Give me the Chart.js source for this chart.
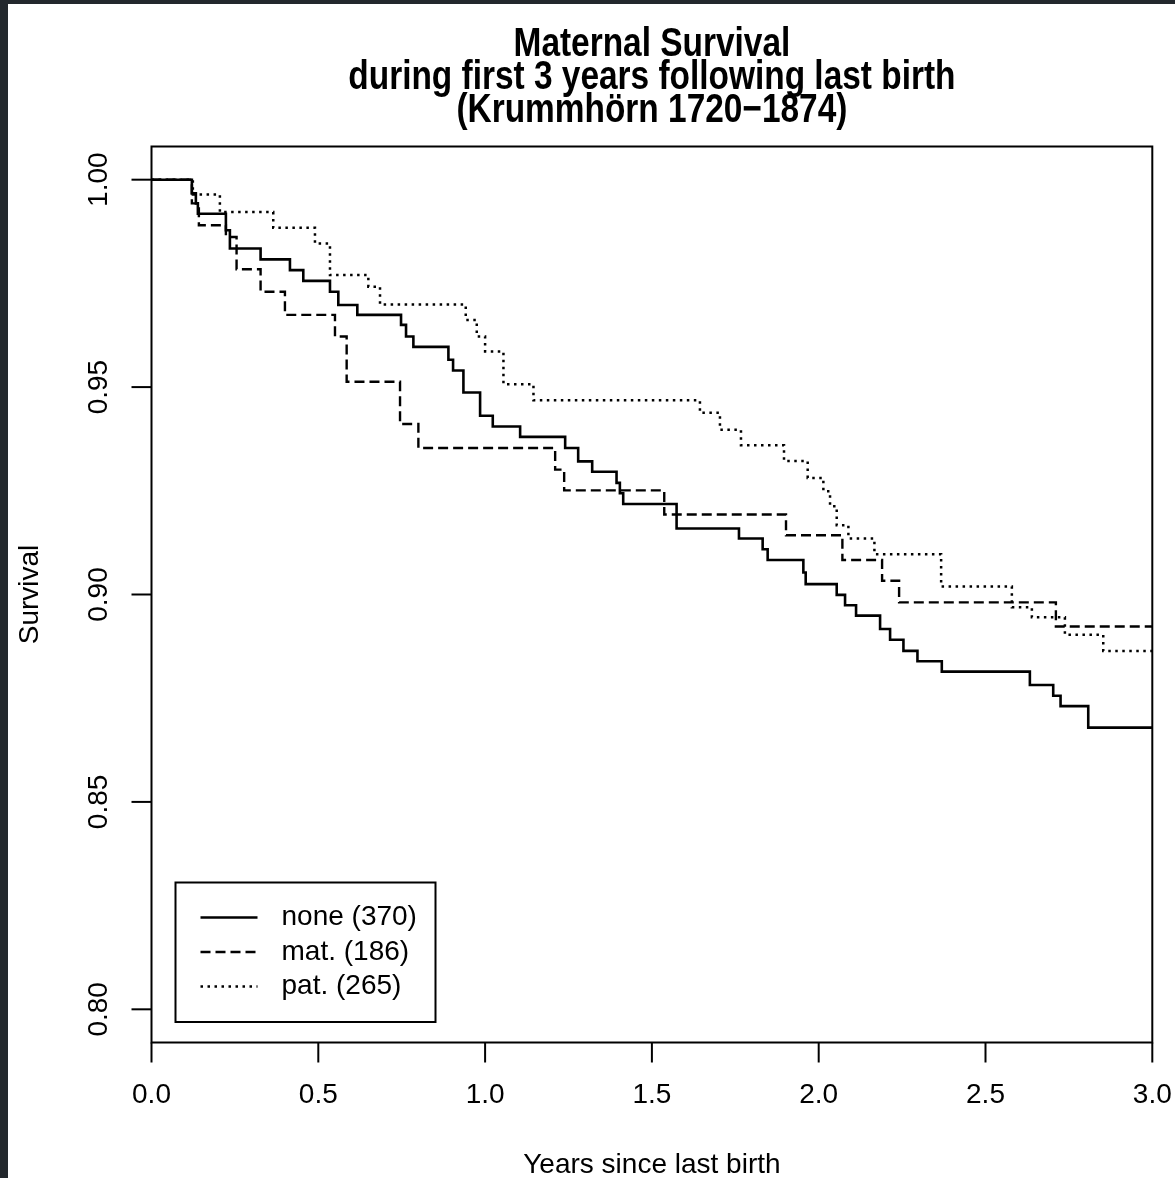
<!DOCTYPE html>
<html>
<head>
<meta charset="utf-8">
<script src="https://cdn.jsdelivr.net/npm/chart.js@4.4.1/dist/chart.umd.min.js"></script>
<style>
    html, body { margin: 0; padding: 0; }
    body { width: 1175px; height: 1178px; background: #23282d; overflow: hidden; position: relative; }
    #panel { position: absolute; left: 8px; top: 4px; width: 1167px; height: 1174px; background: #fff; }
    #panel canvas { display: block; }
</style>
</head>
<body>
<div id="panel"><canvas id="survivalChart" width="1167" height="1174"></canvas></div>
<script>
// Kaplan-Meier steps (time in years, survival after the drop)
const noneTimes = [0, 0.121, 0.133, 0.139, 0.223, 0.235, 0.327, 0.415, 0.455, 0.535, 0.560, 0.617, 0.748, 0.763, 0.785,
    0.890, 0.904, 0.935, 0.985, 1.023, 1.105, 1.240, 1.279, 1.321, 1.394, 1.404, 1.414, 1.574, 1.761, 1.832, 1.847,
    1.954, 1.961, 2.054, 2.079, 2.112, 2.184, 2.214, 2.254, 2.296, 2.369, 2.633, 2.703, 2.725, 2.808, 3.0];
const noneSurv = [1.0, 0.9967, 0.9943, 0.9918, 0.9878, 0.9834, 0.9808, 0.9782, 0.9756, 0.9730, 0.9698, 0.9674, 0.9650, 0.9622, 0.9597,
    0.9566, 0.9540, 0.9487, 0.9431, 0.9405, 0.9380, 0.9353, 0.9321, 0.9296, 0.9269, 0.9244, 0.9218, 0.9159, 0.9135, 0.9109, 0.9083,
    0.9053, 0.9025, 0.8999, 0.8974, 0.8949, 0.8917, 0.8891, 0.8864, 0.8839, 0.8814, 0.8782, 0.8756, 0.8731, 0.8679, 0.8679];

const matTimes = [0, 0.121, 0.142, 0.223, 0.255, 0.327, 0.400, 0.550, 0.585, 0.745, 0.800, 1.210, 1.237, 1.537, 1.902,
    2.071, 2.190, 2.241, 2.711, 3.0];
const matSurv = [1.0, 0.9943, 0.9890, 0.9862, 0.9784, 0.9730, 0.9674, 0.9622, 0.9513, 0.9411, 0.9353, 0.9301, 0.9251, 0.9193, 0.9143,
    0.9083, 0.9033, 0.8981, 0.8923, 0.8923];

const patTimes = [0, 0.124, 0.205, 0.365, 0.490, 0.535, 0.650, 0.685, 0.942, 0.975, 1.000, 1.055, 1.145, 1.644, 1.704,
    1.767, 1.896, 1.967, 2.014, 2.034, 2.054, 2.089, 2.167, 2.367, 2.579, 2.639, 2.738, 2.853, 3.0];
const patSurv = [1.0, 0.9964, 0.9922, 0.9884, 0.9846, 0.9770, 0.9742, 0.9699, 0.9662, 0.9622, 0.9586, 0.9507, 0.9468, 0.9438, 0.9397,
    0.9360, 0.9322, 0.9281, 0.9249, 0.9213, 0.9167, 0.9135, 0.9097, 0.9019, 0.8969, 0.8945, 0.8903, 0.8864, 0.8864];

const seriesLabels = ['none (370)', 'mat. (186)', 'pat. (265)'];

const xTicks = [0, 0.5, 1.0, 1.5, 2.0, 2.5, 3.0];
const xTickLabels = ['0.0', '0.5', '1.0', '1.5', '2.0', '2.5', '3.0'];
const yTicks = [0.80, 0.85, 0.90, 0.95, 1.00];
const yTickLabels = ['0.80', '0.85', '0.90', '0.95', '1.00'];

const titleLines = ['Maternal Survival', 'during first 3 years following last birth', '(Krummh\u00f6rn 1720\u22121874)'];
const xTitle = 'Years since last birth';
const yTitle = 'Survival';

const FONT = '"Liberation Sans", Arial, Helvetica, sans-serif';
const dashes = [[], [10, 5], [2.5, 4.5]];
const widths = [2.6, 2.4, 2.5];

function toPoints(times, surv) {
    return times.map((t, i) => ({ x: t, y: surv[i] }));
}

// R-style frame, ticks, labels, titles and legend
const baseGraphics = {
    id: 'baseGraphics',
    afterDraw(chart) {
        const ctx = chart.ctx;
        const a = chart.chartArea;
        const xs = chart.scales.x;
        const ys = chart.scales.y;
        ctx.save();
        ctx.strokeStyle = '#000';
        ctx.fillStyle = '#000';
        ctx.lineWidth = 2;
        ctx.setLineDash([]);

        // box
        ctx.strokeRect(a.left, a.top, a.right - a.left, a.bottom - a.top);

        // x axis
        ctx.font = '28px ' + FONT;
        ctx.textAlign = 'center';
        ctx.textBaseline = 'middle';
        xTicks.forEach((v, i) => {
            const px = xs.getPixelForValue(v);
            ctx.beginPath();
            ctx.moveTo(px, a.bottom);
            ctx.lineTo(px, a.bottom + 20);
            ctx.stroke();
            ctx.fillText(xTickLabels[i], px, a.bottom + 53);
        });
        ctx.fillText(xTitle, (a.left + a.right) / 2, a.bottom + 123);

        // y axis
        yTicks.forEach((v, i) => {
            const py = ys.getPixelForValue(v);
            ctx.beginPath();
            ctx.moveTo(a.left - 20, py);
            ctx.lineTo(a.left, py);
            ctx.stroke();
            ctx.save();
            ctx.translate(a.left - 52, py);
            ctx.rotate(-Math.PI / 2);
            ctx.fillText(yTickLabels[i], 0, 0);
            ctx.restore();
        });
        ctx.save();
        ctx.translate(a.left - 121, (a.top + a.bottom) / 2);
        ctx.rotate(-Math.PI / 2);
        ctx.fillText(yTitle, 0, 0);
        ctx.restore();

        // title (condensed bold, like R's Helvetica output)
        ctx.font = 'bold 41px ' + FONT;
        ctx.textBaseline = 'alphabetic';
        const cx = (a.left + a.right) / 2;
        [-91, -58, -25].forEach((dy, i) => {
            ctx.save();
            ctx.translate(cx, a.top + dy);
            ctx.scale(0.815, 1);
            ctx.fillText(titleLines[i], 0, 0);
            ctx.restore();
        });

        // legend
        const lx = a.left + 24, ly = a.bottom - 160;
        ctx.lineWidth = 2;
        ctx.strokeRect(lx, ly, 260, 139.5);
        ctx.font = '28px ' + FONT;
        ctx.textAlign = 'left';
        ctx.textBaseline = 'middle';
        seriesLabels.forEach((lab, i) => {
            const yy = ly + 35 + i * 34.5;
            ctx.save();
            ctx.lineWidth = widths[i];
            ctx.setLineDash(dashes[i]);
            ctx.beginPath();
            ctx.moveTo(lx + 25, yy);
            ctx.lineTo(lx + 82, yy);
            ctx.stroke();
            ctx.restore();
            ctx.fillText(lab, lx + 106, yy);
        });
        ctx.restore();
    }
};

const ctx = document.getElementById('survivalChart');
new Chart(ctx, {
    type: 'line',
    data: {
        datasets: [
            { label: seriesLabels[0], data: toPoints(noneTimes, noneSurv) },
            { label: seriesLabels[1], data: toPoints(matTimes, matSurv) },
            { label: seriesLabels[2], data: toPoints(patTimes, patSurv) }
        ].map((d, i) => Object.assign(d, {
            borderColor: '#000',
            borderWidth: widths[i],
            borderDash: dashes[i],
            borderCapStyle: 'butt',
            borderJoinStyle: 'miter',
            stepped: 'before',
            pointRadius: 0,
            fill: false,
            tension: 0
        }))
    },
    options: {
        responsive: false,
        animation: false,
        layout: {
            padding: { left: 143.5, right: 22.7, top: 142.5, bottom: 135.5 }
        },
        plugins: {
            legend: { display: false },
            title: { display: false },
            tooltip: { enabled: false }
        },
        scales: {
            x: { type: 'linear', min: 0, max: 3, display: false },
            y: { type: 'linear', min: 0.792, max: 1.008, display: false }
        }
    },
    plugins: [baseGraphics]
});
</script>
</body>
</html>
